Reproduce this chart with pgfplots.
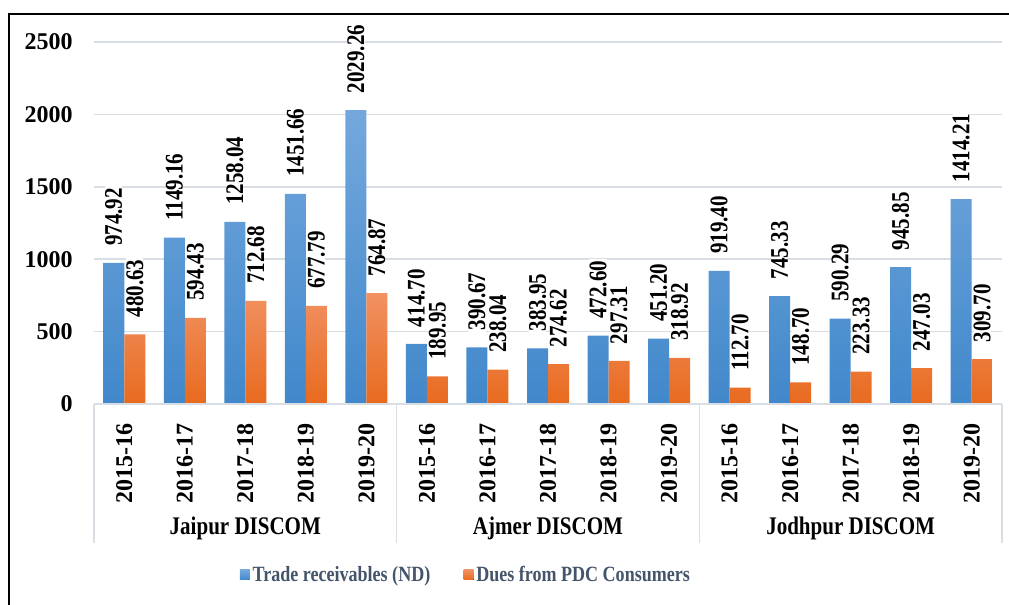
\documentclass[border=0pt]{standalone}
\usepackage{pgfplots}
\pgfplotsset{compat=1.18}
\usepackage{pgfplotstable}
\usepackage{fontspec}
\setmainfont{Liberation Serif}
\newfontfamily\condfont[FakeStretch=0.83]{Liberation Serif}
\definecolor{bluetop}{RGB}{116,168,221}
\definecolor{bluebot}{RGB}{65,136,203}
\definecolor{orgtop}{RGB}{241,145,98}
\definecolor{orgbot}{RGB}{232,106,30}
\definecolor{gridc}{RGB}{217,222,229}
\definecolor{legc}{RGB}{68,84,106}

\pgfplotstableread{
x trade tl dues dl
0 974.92 974.92 480.63 480.63
1 1149.16 1149.16 594.43 594.43
2 1258.04 1258.04 712.68 712.68
3 1451.66 1451.66 677.79 677.79
4 2029.26 2029.26 764.87 764.87
5 414.70 414.70 189.95 189.95
6 390.67 390.67 238.04 238.04
7 383.95 383.95 274.62 274.62
8 472.60 472.60 297.31 297.31
9 451.20 451.20 318.92 318.92
10 919.40 919.40 112.70 112.70
11 745.33 745.33 148.70 148.70
12 590.29 590.29 223.33 223.33
13 945.85 945.85 247.03 247.03
14 1414.21 1414.21 309.70 309.70
}\datatable

\begin{document}
\begin{tikzpicture}
\useasboundingbox (0,0) rectangle (756.75pt,453pt);
\draw[line width=1.5pt] (6.75pt,-5pt) -- (6.75pt,442.5pt) -- (765pt,442.5pt);
\begin{axis}[
  at={(70.5pt,150pt)}, anchor=south west,
  scale only axis, width=681pt, height=271.5pt,
  xmin=-0.5, xmax=14.5, ymin=0, ymax=2500,
  ybar=0pt, bar width=15.75pt,
  clip=false,
  axis line style={draw=none},
  tick style={draw=none},
  ymajorgrids, grid style={gridc, line width=1.1pt},
  ytick={0,500,1000,1500,2000,2500},
  yticklabels={0,500,1000,1500,2000,2500},
  yticklabel style={font=\bfseries\fontsize{18}{18}\selectfont, anchor=east, inner sep=0pt, xshift=-15.75pt},
  xtick={0,...,14},
  xticklabels={2015-16,2016-17,2017-18,2018-19,2019-20,2015-16,2016-17,2017-18,2018-19,2019-20,2015-16,2016-17,2017-18,2018-19,2019-20},
  xticklabel style={yshift=-10.5pt, rotate=90, anchor=east, inner sep=0pt, font=\bfseries\fontsize{18}{18}\selectfont},
  point meta=explicit symbolic,
  nodes near coords,
  nodes near coords style={yshift=11pt, rotate=90, anchor=west, fill=white, inner xsep=1.5pt, inner ysep=0pt, text=black, font=\condfont\bfseries\fontsize{19}{19}\selectfont},
  legend style={at={(axis description cs:0.41,-0.472)}, anchor=center, draw=none, fill=none, legend columns=2, font=\condfont\bfseries\fontsize{16.3}{16.3}\selectfont, text=legc, /tikz/every even column/.append style={column sep=23pt}, inner sep=0pt},
  legend image code/.code={\fill[#1] (0pt,-3.75pt) rectangle (7.5pt,3.75pt);},
]
\addplot[draw=none, top color=bluetop, bottom color=bluebot] table[x=x, y=trade, meta=tl]{\datatable};
\addlegendentry{Trade receivables (ND)}
\addplot[draw=none, top color=orgtop, bottom color=orgbot] table[x=x, y=dues, meta=dl]{\datatable};
\addlegendentry{Dues from PDC Consumers}
\draw[gridc, line width=1.1pt] (axis cs:-0.5,0) -- (axis cs:14.5,0);
\pgfplotsinvokeforeach{-0.5,4.5,9.5,14.5}{
  \draw[gridc, line width=1.1pt] (axis cs:#1,0) -- ([yshift=-104.25pt]axis cs:#1,0);
}
\node[yshift=-93pt, font=\condfont\bfseries\fontsize{19}{19}\selectfont] at (axis cs:2,0) {Jaipur DISCOM};
\node[yshift=-93pt, font=\condfont\bfseries\fontsize{19}{19}\selectfont] at (axis cs:7,0) {Ajmer DISCOM};
\node[yshift=-93pt, font=\condfont\bfseries\fontsize{19}{19}\selectfont] at (axis cs:12,0) {Jodhpur DISCOM};
\end{axis}
\end{tikzpicture}
\end{document}
